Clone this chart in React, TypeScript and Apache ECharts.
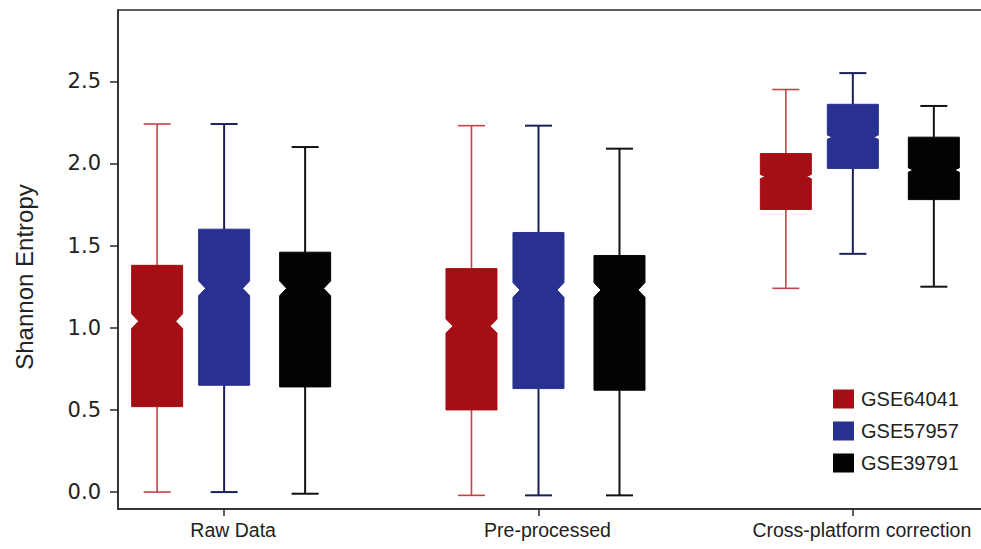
import React, { useEffect, useRef } from "react";
import * as echarts from "echarts";

const categories = ["Raw Data", "Pre-processed", "Cross-platform correction"];
const seriesNames = ["GSE64041", "GSE57957", "GSE39791"];
const yTicks = [0, 0.5, 1.0, 1.5, 2.0, 2.5];
const yTitle = "Shannon Entropy";

// [category index, low whisker, Q1, median, Q3, high whisker, notch half-height]
const gse64041 = [
  [0, 0.0, 0.52, 1.04, 1.38, 2.24, 0.045],
  [1, -0.02, 0.5, 1.01, 1.36, 2.23, 0.042],
  [2, 1.24, 1.72, 1.92, 2.06, 2.45, 0.013],
];
const gse57957 = [
  [0, 0.0, 0.65, 1.24, 1.6, 2.24, 0.045],
  [1, -0.02, 0.63, 1.23, 1.58, 2.23, 0.045],
  [2, 1.45, 1.97, 2.16, 2.36, 2.55, 0.013],
];
const gse39791 = [
  [0, -0.01, 0.64, 1.24, 1.46, 2.1, 0.045],
  [1, -0.02, 0.62, 1.23, 1.44, 2.09, 0.045],
  [2, 1.25, 1.78, 1.96, 2.16, 2.35, 0.013],
];

const allData = [gse64041, gse57957, gse39791];
const fills = ["#A50E14", "#28318F", "#030303"];
const whiskerColors = ["#C2444A", "#1B2158", "#111111"];
const whiskerWidths = [1.6, 2, 2];
const offsetsPx = [-67, 0, 81];
const BOX_W = 51;
const CAP_W = 27;

function makeRenderItem(si: number) {
  return (params: any, api: any) => {
    const xc = api.coord([api.value(0), 0])[0] + offsetsPx[si];
    const yOf = (v: number) => api.coord([0, v])[1];
    const low = yOf(api.value(1));
    const q1 = yOf(api.value(2));
    const med = yOf(api.value(3));
    const q3 = yOf(api.value(4));
    const high = yOf(api.value(5));
    const nh = api.value(6);
    const nTop = yOf(api.value(3) + nh);
    const nBot = yOf(api.value(3) - nh);
    const hw = BOX_W / 2;
    const depth = nh > 0.03 ? 7 : 5;
    const l = xc - hw;
    const r = xc + hw;
    const points = [
      [l, q3],
      [r, q3],
      [r, nTop],
      [r - depth, med],
      [r, nBot],
      [r, q1],
      [l, q1],
      [l, nBot],
      [l + depth, med],
      [l, nTop],
    ];
    const ls = { stroke: whiskerColors[si], lineWidth: whiskerWidths[si] };
    return {
      type: "group",
      children: [
        { type: "line", shape: { x1: xc, y1: high, x2: xc, y2: q3 }, style: ls },
        { type: "line", shape: { x1: xc, y1: q1, x2: xc, y2: low }, style: ls },
        { type: "line", shape: { x1: xc - CAP_W / 2, y1: high, x2: xc + CAP_W / 2, y2: high }, style: ls },
        { type: "line", shape: { x1: xc - CAP_W / 2, y1: low, x2: xc + CAP_W / 2, y2: low }, style: ls },
        {
          type: "polygon",
          shape: { points },
          style: { fill: fills[si], stroke: fills[si], lineWidth: 1 },
        },
      ],
    };
  };
}

export default function App() {
  const ref = useRef<HTMLDivElement>(null);
  useEffect(() => {
    document.body.style.margin = "0";
    const chart = echarts.init(ref.current!, null, { renderer: "svg" });
    const option: any = {
      animation: false,
      backgroundColor: "#ffffff",
      grid: {
        left: 118,
        width: 873,
        top: 10,
        bottom: 40,
        outerBoundsMode: "none",
        containLabel: false,
        show: true,
        borderColor: "#2a2a2a",
        borderWidth: 1.5,
        backgroundColor: "transparent",
      },
      graphic: [
        {
          type: "text",
          x: 24,
          y: 277,
          rotation: Math.PI / 2,
          style: {
            text: yTitle,
            fontFamily: "Liberation Sans, Arial, sans-serif",
            fontSize: 24,
            fill: "#222",
            align: "center",
            verticalAlign: "middle",
          },
        },
      ],
      legend: {
        orient: "vertical",
        left: 833,
        top: 389,
        padding: 0,
        itemWidth: 21,
        itemHeight: 19,
        itemGap: 12,
        icon: "rect",
        textStyle: {
          fontFamily: "Liberation Sans, Arial, sans-serif",
          fontSize: 20,
          lineHeight: 19,
          color: "#222",
          padding: [0, 0, 0, 2],
        },
        data: seriesNames,
      },
      xAxis: {
        type: "value",
        min: -0.3376,
        max: 2.4395,
        axisLine: { show: true, onZero: false, lineStyle: { color: "#2a2a2a", width: 1.5 } },
        axisTick: {
          show: true,
          length: 7,
          customValues: [0, 1, 2],
          lineStyle: { color: "#2a2a2a", width: 1.5 },
        },
        axisLabel: {
          customValues: [0, 1, 2],
          formatter: (v: number) => categories[Math.round(v)] ?? "",
          fontFamily: "Liberation Sans, Arial, sans-serif",
          fontSize: 19.5,
          color: "#222",
          margin: 11,
          padding: [0, 0, 0, 18],
        },
        splitLine: { show: false },
      },
      yAxis: {
        type: "value",
        min: -0.103,
        max: 2.934,
        axisLine: { show: true, onZero: false, lineStyle: { color: "#2a2a2a", width: 1.5 } },
        axisTick: {
          show: true,
          length: 8,
          customValues: yTicks,
          lineStyle: { color: "#2a2a2a", width: 1.5 },
        },
        axisLabel: {
          customValues: yTicks,
          formatter: (v: number) => v.toFixed(1),
          fontFamily: "DejaVu Sans, sans-serif",
          fontSize: 21,
          color: "#222",
          margin: 17,
        },
        splitLine: { show: false },
      },
      series: allData.map((d, si) => ({
        type: "custom",
        name: seriesNames[si],
        renderItem: makeRenderItem(si),
        itemStyle: { color: fills[si] },
        encode: { x: 0, y: [1, 2, 3, 4, 5] },
        data: d,
        clip: false,
      })),
    };
    chart.setOption(option);
    return () => chart.dispose();
  }, []);
  return <div ref={ref} style={{ width: 981, height: 549 }} />;
}
